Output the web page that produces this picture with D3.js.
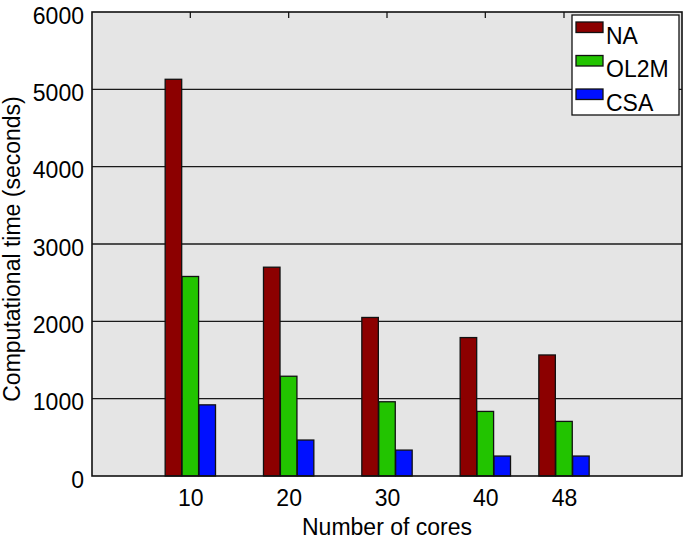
<!DOCTYPE html>
<html>
<head>
<meta charset="utf-8">
<script src="https://cdn.jsdelivr.net/npm/d3@7"></script>
<style>
body{margin:0;background:#fff;}
text{font-family:"Liberation Sans",Arial,sans-serif;fill:#000;}
</style>
</head>
<body>
<div id="canvas"></div>
<script>
// data
var cores = [10, 20, 30, 40, 48];
var series = ['NA', 'OL2M', 'CSA'];
var naTime = [5130, 2700, 2050, 1790, 1565];
var ol2mTime = [2580, 1290, 960, 835, 706];
var csaTime = [920, 465, 335, 258, 258];
var yTicks = [0, 1000, 2000, 3000, 4000, 5000, 6000];
var colors = ['#8c0000', '#22c400', '#0010ff'];

var W = 685, H = 541;
var m = {t:12, r:3, b:65, l:92};
var w = W - m.l - m.r, h = H - m.t - m.b;
var fs = '23px';

var svg = d3.select('#canvas').append('svg')
    .attr('width', W).attr('height', H);
var plot = svg.append('g')
    .attr('transform', 'translate(' + m.l + ',' + m.t + ')');

var x = d3.scaleLinear().domain([0, 60]).range([0, w]);
var y = d3.scaleLinear().domain([0, 6000]).range([h, 0]);

plot.append('rect').attr('width', w).attr('height', h).attr('fill', '#e5e5e5');

// grid lines
plot.selectAll('.grid').data(yTicks.slice(1, -1)).enter().append('line')
    .attr('x1', 0).attr('x2', w)
    .attr('y1', function(d){return y(d);}).attr('y2', function(d){return y(d);})
    .attr('stroke', '#1a1a1a').attr('stroke-width', 1.3);

// top ticks (inward)
plot.selectAll('.ttick').data(cores).enter().append('line')
    .attr('x1', function(d){return x(d);}).attr('x2', function(d){return x(d);})
    .attr('y1', 0).attr('y2', 6)
    .attr('stroke', '#1a1a1a').attr('stroke-width', 1.3);

var rows = cores.map(function(c, i){
    return {core:c, vals:[naTime[i], ol2mTime[i], csaTime[i]]};
});
var off = 1.72, bw = 1.68;
var groups = plot.selectAll('.grp').data(rows).enter().append('g');
groups.selectAll('rect').data(function(d){
        return d.vals.map(function(v, j){return {core:d.core, v:v, j:j};});
    }).enter().append('rect')
    .attr('x', function(d){return x(d.core + (d.j - 1) * off - bw / 2);})
    .attr('width', x(bw) - x(0))
    .attr('y', function(d){return y(d.v);})
    .attr('height', function(d){return h - y(d.v);})
    .attr('fill', function(d){return colors[d.j];})
    .attr('stroke', '#111').attr('stroke-width', 1.3);

// frame
plot.append('rect').attr('width', w).attr('height', h)
    .attr('fill', 'none').attr('stroke', '#111').attr('stroke-width', 1.6);

// axes labels
var axisX = d3.axisBottom(x).tickValues(cores).tickSize(0).tickPadding(14);
var gx = plot.append('g').attr('transform', 'translate(0,' + h + ')').call(axisX);
gx.select('.domain').remove();
gx.selectAll('text').style('font-size', fs).style('font-family', '"Liberation Sans",Arial,sans-serif');

var axisY = d3.axisLeft(y).tickValues(yTicks).tickFormat(d3.format('d')).tickSize(0).tickPadding(8);
var gy = plot.append('g').call(axisY);
gy.select('.domain').remove();
gy.selectAll('text').attr('dy', '0.48em').style('font-size', fs).style('font-family', '"Liberation Sans",Arial,sans-serif');

svg.append('text').attr('x', m.l + x(30) - 0).attr('y', 535)
    .attr('text-anchor', 'middle').style('font-size', fs)
    .text('Number of cores');
svg.append('text')
    .attr('transform', 'translate(20,249) rotate(-90)')
    .attr('text-anchor', 'middle').style('font-size', fs)
    .text('Computational time (seconds)');

// legend
var lg = svg.append('g').attr('transform', 'translate(572,15)');
lg.append('rect').attr('width', 107).attr('height', 100)
    .attr('fill', '#fff').attr('stroke', '#111').attr('stroke-width', 1.3);
series.forEach(function(s, i){
    lg.append('rect').attr('x', 4).attr('y', 7 + i * 33.5).attr('width', 27).attr('height', 10.5)
        .attr('fill', colors[i]).attr('stroke', '#111').attr('stroke-width', 1.3);
    lg.append('text').attr('x', 34).attr('y', 28.5 + i * 33.5)
        .style('font-size', fs).text(s);
});
</script>
</body>
</html>
